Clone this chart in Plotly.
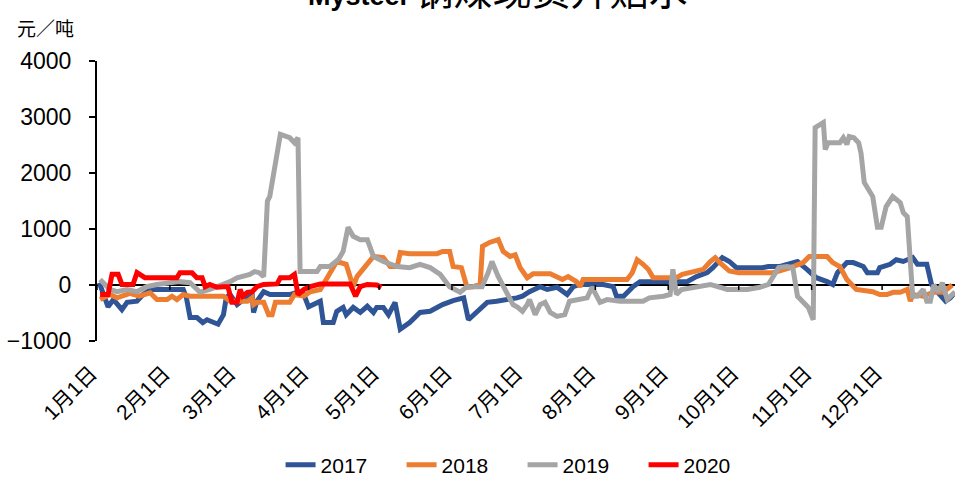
import plotly.graph_objects as go

# ---- data (day of year, value in 元/吨) ----
month_ticks = [0, 31, 59, 90, 120, 151, 181, 212, 243, 273, 304, 334]
month_labels = ["1月1日", "2月1日", "3月1日", "4月1日", "5月1日", "6月1日",
                "7月1日", "8月1日", "9月1日", "10月1日", "11月1日", "12月1日"]
y_ticks = [-1000, 0, 1000, 2000, 3000, 4000]

x2017 = [1, 4.7, 7, 10.6, 12.8, 17, 19.6, 23, 36.7, 38, 39.6, 42.5, 45, 46.8, 51.5, 53.8, 55, 56.6,
         59.6, 64, 66, 66.6, 68, 70.9, 73.6, 82, 85, 88, 90, 95, 96.3, 100.5, 102, 104.7, 106, 109,
         112, 115, 117.6, 119, 121.8, 124, 126.8, 129, 133, 137.4, 141.7, 144.7, 147, 151.5, 156,
         158, 161.7, 166, 170, 175.7, 178.6, 181, 184, 188.5, 191.5, 195.7, 200, 202.6, 205.5,
         212.8, 215.3, 219.6, 221, 224, 228, 231, 235, 241, 247, 251, 255, 259.6, 262, 266, 269,
         272, 283, 285.6, 290.6, 295, 298, 302, 306, 310.6, 313, 315, 319, 321.7, 326, 327.7, 332,
         333, 337.4, 340, 343, 347, 349, 353, 355, 357.4, 361, 363, 365]
y2017 = [40, -390, -260, -440, -310, -290, -170, -80, -80, -220, -580, -580, -670, -620, -700, -530,
         -220, -170, -350, -200, -170, -490, -290, -120, -170, -170, -130, -170, -390, -290, -670,
         -670, -470, -400, -530, -400, -490, -380, -490, -400, -400, -530, -310, -790, -670, -490,
         -470, -390, -350, -280, -230, -620, -470, -310, -290, -260, -230, -200, -120, -30, -80,
         -40, -170, -30, 10, 10, 10, -30, -200, -200, -30, 60, 60, 60, 40, 60, 150, 220, 310, 490,
         420, 310, 310, 330, 330, 370, 420, 280, 130, 60, 10, 220, 400, 400, 330, 220, 220, 310,
         370, 450, 420, 490, 370, 370, 10, -120, -290, -230, -130]

x2018 = [1.3, 5.5, 8.5, 14, 18, 22.6, 25.5, 29.8, 31.9, 34, 36.7, 39.6, 53.8, 56.6, 64, 66, 66.6,
         68, 70.9, 73, 74.5, 75.9, 82, 84, 88, 90.7, 95, 97, 102, 106, 109, 110.6, 115, 117.6,
         121.8, 124.7, 127.7, 129, 133, 144.7, 147, 150, 151.5, 155, 157.4, 160, 163, 164, 167,
         170.7, 172.8, 175.7, 177.9, 180, 183, 185.5, 192.8, 195.7, 198, 200.4, 204, 205.5, 206.8,
         218, 225.5, 227.7, 229.8, 232.3, 234.5, 236.6, 242.3, 246.5, 249, 255, 257.9, 260.9, 263,
         265, 269, 273, 287.7, 295, 300.4, 303, 310.6, 313, 316, 319, 323, 330, 333, 336, 338.7,
         341.7, 344.7, 346, 347, 351.5, 355.7, 360, 363.8]
y2018 = [-260, -170, -230, -150, -200, -140, -260, -260, -200, -260, -170, -200, -200, -290, -290,
         -230, -350, -310, -310, -530, -530, -310, -310, -170, -200, -120, -80, 60, 420, 370, -30,
         150, 370, 510, 490, 330, 330, 580, 560, 560, 600, 600, 330, 310, -40, -30, 10, 690, 760,
         810, 600, 510, 540, 310, 130, 200, 200, 150, 100, 150, 60, -30, 100, 100, 100, 220, 450,
         370, 280, 130, 130, 130, 190, 240, 280, 420, 490, 400, 250, 220, 220, 310, 400, 510, 510,
         400, 330, 100, -80, -120, -170, -170, -130, -130, -80, -290, -170, -200, -130, -130, 0]

x2019 = [1.3, 3.4, 5.5, 8.5, 12.8, 17, 21, 25.5, 31, 35, 39.6, 43.8, 48, 53.8, 56.6, 59.6, 62, 65,
         67, 69, 70.9, 72.5, 73.5, 78, 82, 84, 85.5, 86.4, 93.6, 95, 99, 102.6, 104.7, 106.8, 109,
         112, 115, 116, 117.6, 121.8, 127.7, 133, 137.4, 141.7, 146, 150, 154.5, 157.4, 163.8,
         166.4, 168, 170.7, 174.5, 177, 179, 181, 183, 184, 186.4, 188.5, 190.6, 192.8, 195.7, 199,
         201, 205.5, 208.5, 210.6, 212, 214, 217, 222.5, 232.3, 235, 241, 243.8, 245, 246.5, 248.7,
         253.6, 260.9, 265, 268, 276.6, 282, 285.6, 287.7, 290, 293.6, 296, 298, 300.4, 302.6,
         304.7, 305.5, 309, 309.8, 311, 316, 317.5, 319, 320, 322, 324, 325, 326.4, 328.5, 330,
         332, 333.6, 335.7, 338.5, 341.7, 343, 344.7, 346, 347, 349, 351.5, 353, 354.5, 356, 358,
         359.6, 361.7, 363.8, 365]
y2019 = [100, 10, -80, -120, -80, -120, -30, 10, 40, 60, 40, -130, -80, 0, 60, 130, 150, 190, 240,
         220, 150, 1500, 1580, 2690, 2630, 2540, 2630, 240, 240, 330, 330, 450, 600, 1030, 870, 810,
         810, 670, 510, 420, 330, 310, 370, 310, 190, -30, -130, -30, -30, 220, 420, 150, -130,
         -350, -400, -470, -350, -260, -530, -350, -310, -490, -560, -530, -290, -260, -230, -40,
         -170, -310, -260, -290, -290, -230, -200, -170, 280, -170, -80, -40, 10, -40, -80, -80,
         -40, 10, 150, 310, 330, 310, -200, -320, -400, -620, 2810, 2900, 2420, 2540, 2540, 2630,
         2510, 2650, 2630, 2540, 2360, 1830, 1700, 1580, 1030, 1030, 1400, 1580, 1470, 1290, 1220,
         510, -200, -200, -80, -290, -290, 0, -120, 40, -260, -170, -130]

x2020 = [1.3, 4.7, 6.4, 9, 10.6, 15.3, 17, 20.4, 34, 35.3, 40.4, 42.5, 44.7, 46, 48, 51, 53.8, 55.7,
         57.4, 59.6, 60.9, 62, 64, 66, 68, 70.9, 76.6, 78, 82, 84, 85.5, 88, 90.7, 95, 107.7, 110,
         112, 115, 119, 121]
y2020 = [-170, -170, 190, 190, 10, 10, 220, 130, 130, 220, 220, 130, 130, -30, 10, -40, -30, -30,
         -310, -310, -80, -200, -130, -120, -30, 10, 20, 130, 130, 190, -170, -80, -30, 20, 20,
         -200, -30, 10, 0, -40]

series = [("2017", x2017, y2017, "#2F5597"),
          ("2018", x2018, y2018, "#ED7D31"),
          ("2019", x2019, y2019, "#A5A5A5"),
          ("2020", x2020, y2020, "#FF0000")]

fig = go.Figure()
for name, xs, ys, color in series:
    fig.add_trace(go.Scatter(x=xs, y=ys, mode="lines", name=name,
                             line=dict(color=color, width=5)))

# tick marks on the zero line for each month
for t in month_ticks:
    fig.add_shape(type="line", xref="x", yref="y", x0=t, x1=t, y0=0, y1=-90,
                  line=dict(color="black", width=1.5), layer="above")

fig.update_layout(
    width=957, height=479,
    margin=dict(l=97, r=2, t=61, b=138, autoexpand=False),
    paper_bgcolor="white", plot_bgcolor="white",
    font=dict(family="Arial, Liberation Sans, sans-serif", color="black"),
    showlegend=True,
    legend=dict(orientation="h", x=0.496, xanchor="center", y=-0.443, yanchor="middle",
                font=dict(size=21), entrywidth=76, entrywidthmode="pixels",
                itemwidth=30, bgcolor="rgba(0,0,0,0)"),
    xaxis=dict(range=[0, 365], tickmode="array", tickvals=month_ticks, ticktext=month_labels,
               tickangle=-45, showgrid=False, zeroline=False, showline=False, ticks="",
               automargin=False, ticklabelstandoff=15, ticklabelshift=-6,
               tickfont=dict(size=21, family="Arial, Noto Sans CJK SC, sans-serif")),
    yaxis=dict(range=[-1000, 4000], tickmode="array", tickvals=y_ticks,
               showgrid=False, zeroline=True, zerolinecolor="black", zerolinewidth=1.5,
               showline=True, linecolor="black", linewidth=2, ticks="outside",
               ticklen=6, tickwidth=2, tickcolor="black", automargin=False,
               ticklabelstandoff=13, tickfont=dict(size=23)),
    annotations=[
        dict(text="元／吨", xref="paper", yref="paper", x=-0.095, y=1.118,
             xanchor="left", yanchor="middle", showarrow=False,
             font=dict(size=19, family="Noto Sans CJK SC, sans-serif")),
        dict(text="<b>Mysteel</b> <span style='font-size:39px'>钢煤现货升贴水</span>",
             xref="paper", yref="paper",
             x=0.467, y=1.25, xanchor="center", yanchor="middle", showarrow=False,
             font=dict(size=27, family="Arial, Noto Sans CJK SC, sans-serif")),
    ],
)

fig.write_html("out.html", config={"displayModeBar": False},
               post_script="document.body.style.margin='0';")
